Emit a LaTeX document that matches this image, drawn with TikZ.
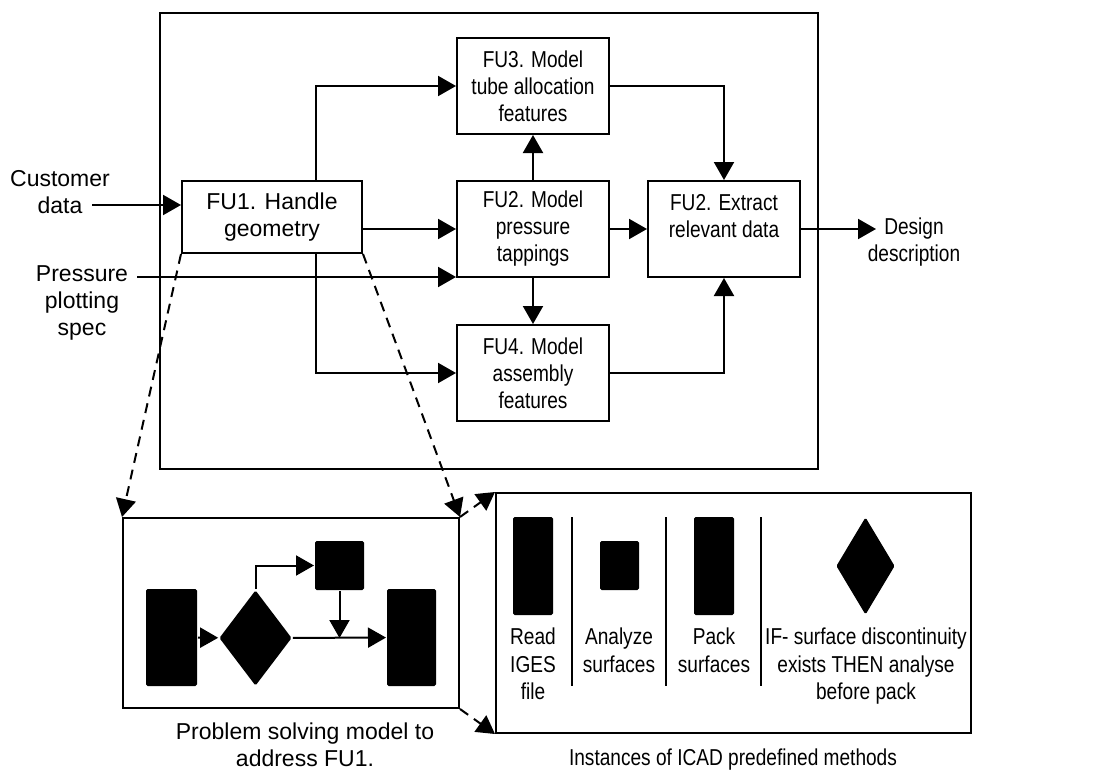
\documentclass[tikz,border=0pt]{standalone}
\usepackage{fontspec}
\setmainfont{Liberation Sans}
\newfontfamily\narrowsf[FakeStretch=0.83]{Liberation Sans}
\usetikzlibrary{arrows.meta,shapes.geometric}

\begin{document}
\begin{tikzpicture}[
x=0.5pt, y=-0.5pt, line width=1pt,
font=\fontsize{11.5}{13.5}\selectfont,
fu/.style={draw, minimum width=76pt, minimum height=48pt, inner sep=1pt, align=center,
    font=\fontsize{11.5}{13.5}\selectfont\narrowsf},
lbl/.style={inner sep=0pt, align=center},
arr/.style={-{Triangle[length=9pt,width=10pt]}},
zoomline/.style={arr, dash pattern=on 5pt off 3.5pt},
blk/.style={fill=black, rounded corners=0.8pt, inner sep=0pt},
]
\useasboundingbox (0,0) rectangle (1110,771);

% functional units
\draw (160,13) rectangle (818,469);
\node[fu, minimum width=90pt, minimum height=36pt, font=\fontsize{11.5}{13.5}\selectfont] (fu1) at (272,217) {FU1. Handle\\geometry};
\node[fu] (fu3) at (533,86) {FU3. Model\\tube allocation\\features};
\node[fu] (fu2) at (533,229) {FU2. Model\\pressure\\tappings};
\node[fu] (fu4) at (533,373) {FU4. Model\\assembly\\features};
\node[fu] (ext) at (724,229) {FU2. Extract\\relevant data\\\phantom{x}};

\node[lbl] (cust) at (60,192.5) {Customer\\data};
\node[lbl] (press) at (82,302.5) {Pressure\\plotting\\spec};
\node[lbl, font=\fontsize{11.5}{13.5}\selectfont\narrowsf] (design) at (914,242.5) {Design\\description};
\coordinate (cin) at (92,205);
\coordinate (pin) at (137,277);
\coordinate (dout) at (876,229);

\draw[arr] (cin) -- (cin -| fu1.west);
\draw[arr] (pin) -- (pin -| fu2.west);
\draw[arr] (fu1.east |- fu2) -- (fu2.west);
\draw[arr] ([xshift=22pt]fu1.north) |- (fu3);
\draw[arr] ([xshift=22pt]fu1.south) |- (fu4);
\draw[arr] (fu2) -- (fu3);
\draw[arr] (fu2) -- (fu4);
\draw[arr] (fu2) -- (ext);
\draw[arr] (fu3) -| (ext);
\draw[arr] (fu4) -| (ext);
\draw[arr] (ext) -- (dout);

% problem solving model
\node[draw, minimum width=168pt, minimum height=95pt] (pm) at (291,613) {};
\node[blk, minimum width=25.5pt, minimum height=48.5pt] (r1) at (171.5,637.5) {};
\node[blk, diamond, minimum width=36.5pt, minimum height=48pt] (d1) at (255.5,638) {};
\node[blk, minimum width=24.5pt, minimum height=24.5pt] (s1) at (339.5,565.5) {};
\node[blk, minimum width=24.5pt, minimum height=48.5pt] (r2) at (411.5,637.5) {};
\coordinate (j1) at (s1.south |- d1.east);
\draw[arr] (r1) -- (d1);
\draw[arr] (d1.north) |- (s1);
\draw[arr] (d1) -- (r2);
\draw[arr] (s1) -- (j1);
\node[lbl] (cap1) at (305,744.5) {Problem solving model to\\address FU1.};

% ICAD methods
\node[draw, minimum width=237.5pt, minimum height=120pt] (im) at (733.5,613) {};
\node[blk, minimum width=20pt, minimum height=49pt] (b1) at (533,566) {};
\node[blk, minimum width=19.5pt, minimum height=24.5pt] (b2) at (619.5,565.5) {};
\node[blk, minimum width=20pt, minimum height=49pt] (b3) at (714,566) {};
\node[blk, diamond, minimum width=29.5pt, minimum height=49pt] (b4) at (865.5,566) {};
\draw (572,517) -- (572,686);
\draw (666,517) -- (666,686);
\draw (761,517) -- (761,686);
\node[lbl, anchor=north, font=\fontsize{11.5}{13.75}\selectfont\narrowsf] (t1) at (533,627) {Read\\IGES\\file};
\node[lbl, anchor=north, font=\fontsize{11.5}{13.75}\selectfont\narrowsf] (t2) at (619,627) {Analyze\\surfaces};
\node[lbl, anchor=north, font=\fontsize{11.5}{13.75}\selectfont\narrowsf] (t3) at (714,627) {Pack\\surfaces};
\node[lbl, anchor=north, font=\fontsize{11.5}{13.75}\selectfont\narrowsf] (t4) at (866,627) {IF- surface discontinuity\\exists THEN analyse\\before pack};
\node[lbl, font=\fontsize{11.5}{13.5}\selectfont\narrowsf] (cap2) at (733,760) {Instances of ICAD predefined methods};

% zoom lines
\draw[zoomline] (fu1.south west) -- (pm.north west);
\draw[zoomline] (fu1.south east) -- (pm.north east);
\draw[zoomline] (pm.north east) -- (im.north west);
\draw[zoomline] (pm.south east) -- (im.south west);

\end{tikzpicture}
\end{document}
